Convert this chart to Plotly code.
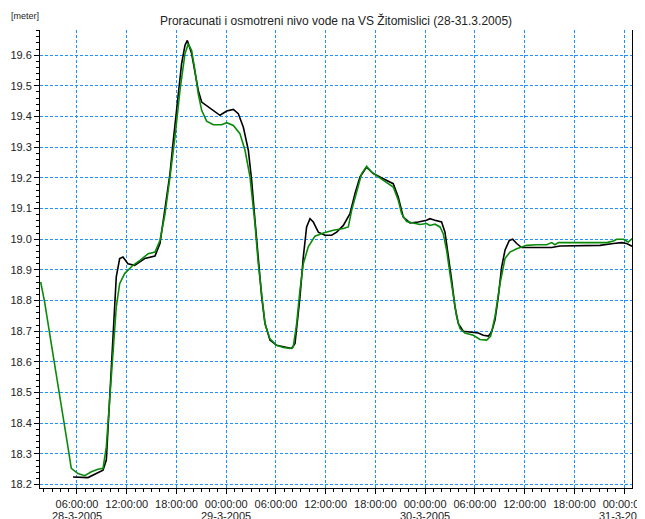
import pandas as pd
import plotly.graph_objects as go

# hours counted from 28-3-2005 00:00
green_hours = [
    1.62, 2.10, 2.90, 3.71, 4.31, 4.91, 5.31, 6.12, 6.93, 7.73, 8.53, 9.14, 9.54,
    9.94, 10.34, 10.74, 11.15, 11.75, 12.75, 13.6, 14.6, 15.41, 16.01, 16.62,
    17.22, 17.82, 18.42, 19.03, 19.43, 19.83, 20.23, 20.63, 21.04, 21.64, 22.44,
    23.45, 24.06, 24.86, 25.66, 26.27, 26.87, 27.47, 27.87, 28.28, 28.68, 29.28,
    30.08, 30.89, 31.69, 32.09, 32.5, 32.9, 33.3, 33.9, 34.71, 35.71, 36.92,
    38.13, 38.73, 39.13, 39.74, 40.34, 40.94, 41.54, 42.35, 43.35, 44.15, 44.76,
    45.16, 45.76, 46.57, 47.37, 48.17, 48.57, 49.18, 49.79, 50.18, 50.59, 50.99,
    51.39, 51.8, 52.2, 52.8, 53.81, 54.61, 55.42, 55.9, 56.42, 57.03, 57.63,
    58.23, 59.04, 60.24, 61.45, 62.66, 63.26, 63.66, 64.06, 65.47, 67.48, 69.9,
    70.7, 71.1, 71.91, 72.51, 72.96,
]
green_level = [
    18.861, 18.795, 18.66, 18.53, 18.432, 18.323, 18.253, 18.236, 18.229, 18.242,
    18.25, 18.253, 18.323, 18.475, 18.638, 18.779, 18.855, 18.888, 18.915, 18.931,
    18.953, 18.958, 18.996, 19.083, 19.203, 19.333, 19.485, 19.605, 19.637, 19.615,
    19.55, 19.474, 19.42, 19.385, 19.373, 19.373, 19.380, 19.371, 19.344, 19.29,
    19.203, 19.051, 18.92, 18.812, 18.725, 18.675, 18.654, 18.647, 18.644, 18.649,
    18.725, 18.834, 18.92, 18.975, 19.01, 19.02, 19.029, 19.035, 19.04, 19.094,
    19.159, 19.214, 19.238, 19.219, 19.203, 19.186, 19.17, 19.127, 19.083, 19.058,
    19.054, 19.048, 19.051, 19.045, 19.049, 19.04, 19.018, 18.964, 18.888, 18.812,
    18.747, 18.709, 18.694, 18.687, 18.673, 18.671, 18.684, 18.747, 18.855, 18.937,
    18.958, 18.969, 18.98, 18.982, 18.982, 18.989, 18.982, 18.989, 18.989, 18.989,
    18.989, 18.994, 19.0, 19.0, 18.991, 19.002,
]

black_hours = [
    5.52, 6.52, 7.33, 8.33, 9.14, 9.54, 9.94, 10.34, 10.74, 11.15, 11.55, 12.15,
    12.96, 14.17, 15.41, 16.01, 16.62, 17.22, 17.62, 18.22, 18.62, 19.03, 19.31,
    19.83, 20.23, 20.63, 21.04, 21.44, 22.04, 22.65, 23.25, 24.06, 24.86, 25.46,
    26.07, 26.67, 27.07, 27.47, 27.87, 28.28, 28.68, 29.28, 30.08, 31.29, 31.9,
    32.3, 32.9, 33.3, 33.7, 34.11, 34.51, 35.11, 35.92, 36.72, 37.33, 38.13,
    38.93, 39.53, 40.14, 40.94, 41.74, 42.95, 44.15, 44.76, 45.36, 46.17, 47.17,
    48.17, 48.57, 49.18, 49.98, 50.39, 50.79, 51.2, 51.6, 52.0, 52.6, 53.41,
    54.41, 55.01, 55.62, 56.02, 56.42, 56.82, 57.23, 57.63, 58.15, 58.55, 59.04,
    59.64, 61.05, 62.25, 63.26, 64.26, 65.87, 67.48, 69.09, 70.7, 71.71, 72.31,
    72.96,
]
black_level = [
    18.225, 18.223, 18.223, 18.236, 18.247, 18.28, 18.475, 18.693, 18.877, 18.937,
    18.942, 18.92, 18.915, 18.937, 18.945, 18.986, 19.094, 19.214, 19.322, 19.463,
    19.572, 19.632, 19.648, 19.605, 19.539, 19.485, 19.447, 19.439, 19.429, 19.414,
    19.404, 19.418, 19.423, 19.409, 19.365, 19.29, 19.192, 19.062, 18.931, 18.812,
    18.725, 18.671, 18.654, 18.649, 18.644, 18.66, 18.812, 18.942, 19.04, 19.067,
    19.056, 19.023, 19.013, 19.013, 19.023, 19.045, 19.083, 19.148, 19.203, 19.235,
    19.214, 19.197, 19.181, 19.137, 19.072, 19.053, 19.056, 19.062, 19.067, 19.062,
    19.056, 19.023, 18.953, 18.866, 18.779, 18.725, 18.7, 18.698, 18.694, 18.687,
    18.684, 18.698, 18.736, 18.812, 18.91, 18.964, 18.996, 19.0, 18.986, 18.973,
    18.973, 18.971, 18.973, 18.978, 18.978, 18.98, 18.98, 18.986, 18.989, 18.986,
    18.977,
]

tick_hours = [6, 12, 18, 24, 30, 36, 42, 48, 54, 60, 66, 72]
tick_labels = [
    "06:00:00", "12:00:00", "18:00:00", "00:00:00", "06:00:00", "12:00:00",
    "18:00:00", "00:00:00", "06:00:00", "12:00:00", "18:00:00", "00:00:00",
]
date_hours = [6, 24, 48, 72]
date_labels = ["28-3-2005", "29-3-2005", "30-3-2005", "31-3-2005"]

start = pd.Timestamp("2005-03-28 00:00")


def to_time(hours):
    return start + pd.to_timedelta(pd.Series(hours), unit="h")


# the page body adds 8px around the figure, so the figure is a bit smaller
W, H = 637, 511
grid_col = "#1e90ff"
font_family = "Liberation Sans, Arial, sans-serif"
font = dict(family=font_family, size=11, color="#222")

fig = go.Figure()

fig.add_trace(
    go.Scatter(
        x=to_time(black_hours), y=black_level, mode="lines",
        line=dict(color="#000000", width=1.6), showlegend=False,
    )
)
fig.add_trace(
    go.Scatter(
        x=to_time(green_hours), y=green_level, mode="lines",
        line=dict(color="#0a8a0a", width=1.6), showlegend=False,
    )
)

# date line under the time labels
annotations = [
    dict(
        text=d, x=t, xref="x", y=-28 / 458, yref="paper",
        xanchor="center", yanchor="middle", showarrow=False, font=font,
    )
    for t, d in zip(to_time(date_hours), date_labels)
]
annotations.append(
    dict(
        text="[meter]", xref="paper", yref="paper",
        x=-31 / 592, y=1 + 13.8 / 458, xanchor="left",
        yanchor="middle", showarrow=False,
        font=dict(family=font_family, size=9, color="#222"),
    )
)

fig.update_layout(
    width=W, height=H,
    margin=dict(l=32, r=13, t=22, b=31),
    paper_bgcolor="white", plot_bgcolor="white",
    font=font,
    title=dict(
        text="Proracunati i osmotreni nivo vode na VS Žitomislici (28-31.3.2005)",
        x=0.5, xref="paper", y=1 - 12.7 / H, yref="container",
        xanchor="center", yanchor="middle",
        font=dict(family=font_family, size=12, color="#222"),
    ),
    xaxis=dict(
        type="date",
        range=[to_time([1.54])[0], to_time([72.95])[0]],
        tickmode="array",
        tickvals=to_time(tick_hours),
        ticktext=tick_labels,
        ticks="outside", ticklen=5, tickcolor="#000",
        ticklabelstandoff=1, ticklabeloverflow="allow", automargin=False,
        minor=dict(dtick=3600000, tick0="2005-03-28", ticks="outside",
                   ticklen=3, tickcolor="#000", showgrid=False),
        showline=True, linecolor="#000", linewidth=1,
        showgrid=True, gridcolor=grid_col, gridwidth=1, griddash="3px,2px",
        zeroline=False, tickangle=0,
    ),
    yaxis=dict(
        range=[18.189, 19.682],
        tickmode="linear", tick0=18.2, dtick=0.1, tickformat=".1f",
        ticks="outside", ticklen=5, tickcolor="#000", automargin=False,
        minor=dict(dtick=0.02, tick0=18.2, ticks="outside",
                   ticklen=3, tickcolor="#000", showgrid=False),
        showline=True, mirror=True, linecolor="#000", linewidth=1,
        showgrid=True, gridcolor=grid_col, gridwidth=1, griddash="3px,2px",
        zeroline=False,
    ),
    annotations=annotations,
)

fig.write_html("out.html")
